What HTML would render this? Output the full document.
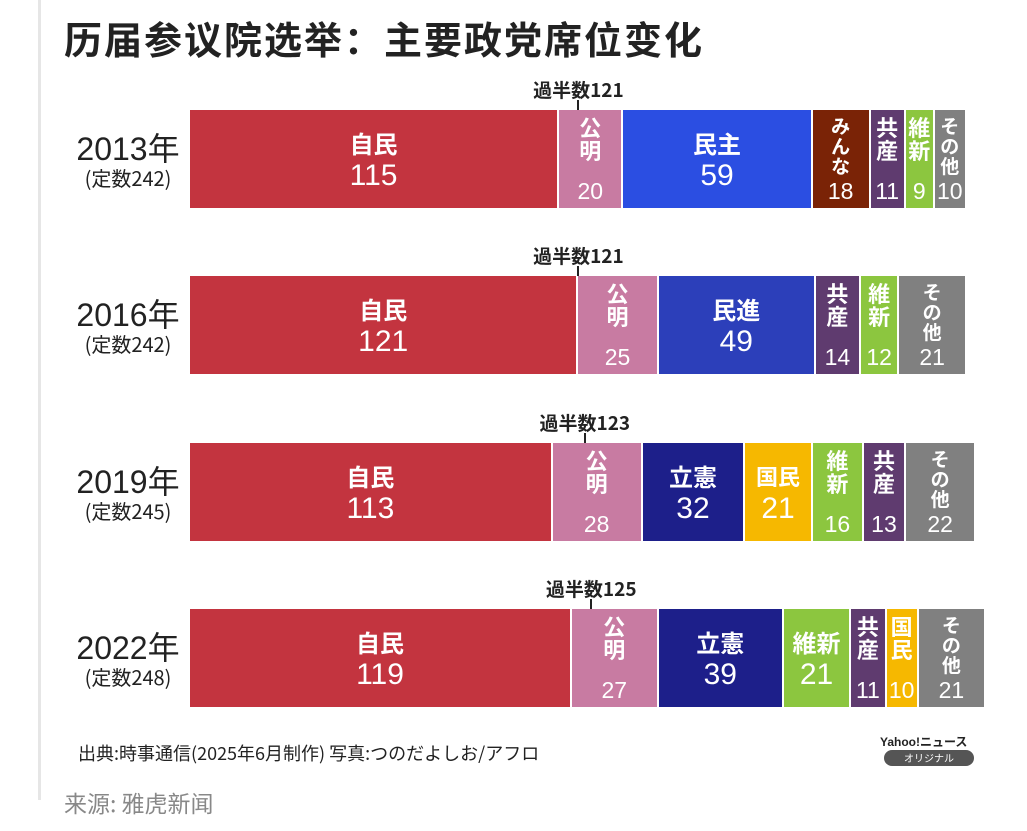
<!DOCTYPE html>
<html><head><meta charset="utf-8">
<style>
body{margin:0;background:#fff;width:1027px;height:831px;overflow:hidden;position:relative;font-family:"Liberation Sans","Noto Sans CJK JP",sans-serif;}
#rule{position:absolute;left:38px;top:0;width:3px;height:800px;background:#e6e6e6;}
#title{position:absolute;left:64px;top:10px;font-size:38px;font-weight:bold;color:#222;font-family:"Noto Sans CJK SC",sans-serif;letter-spacing:2px;}
.seg{position:absolute;color:#fff;text-align:center;overflow:hidden;font-family:"Noto Sans CJK JP",sans-serif;font-weight:bold;}
.num{font-weight:normal;font-family:"Liberation Sans",sans-serif;}
.year{position:absolute;left:68px;width:120px;text-align:center;color:#222;}
.yy{font-size:32px;line-height:34px;font-family:"Liberation Sans","Noto Sans CJK JP",sans-serif;}
.cap{font-size:20px;line-height:24px;font-family:"Noto Sans CJK JP",sans-serif;}
.maj{position:absolute;font-size:19px;color:#222;font-family:"Noto Sans CJK JP",sans-serif;font-weight:bold;transform:translateX(-50%);}
.tick{position:absolute;width:2px;height:10px;background:#222;}
#src{position:absolute;left:78px;top:740px;font-size:18px;color:#222;font-family:"Noto Sans CJK JP",sans-serif;}
#src2{position:absolute;left:64px;top:785px;font-size:23px;color:#888;font-family:"Noto Sans CJK SC",sans-serif;}
#yahoo{position:absolute;left:880px;top:733px;font-size:12px;font-weight:bold;color:#222;}
#orig{position:absolute;left:884px;top:750px;width:90px;height:16px;border-radius:8px;background:#555;color:#fff;font-size:10px;text-align:center;line-height:16px;font-family:"Noto Sans CJK JP",sans-serif;}
</style></head><body>
<div id="rule"></div>
<div id="title">历届参议院选举：主要政党席位变化</div>
<div id="chart"></div>
<div id="src">出典:時事通信(2025年6月制作) 写真:つのだよしお/アフロ</div>
<div id="yahoo">Yahoo!ニュース</div>
<div id="orig">オリジナル</div>
<div id="src2">来源:  雅虎新闻</div>
<script>
const years=["2013年","2016年","2019年","2022年"];
const totals=[242,242,245,248];
const majority=[121,121,123,125];
const parties2013=["自民","公明","民主","みんな","共産","維新","その他"];
const seats2013=[115,20,59,18,11,9,10];
const vert2013=[0,1,0,1,1,1,1];
const parties2016=["自民","公明","民進","共産","維新","その他"];
const seats2016=[121,25,49,14,12,21];
const vert2016=[0,1,0,1,1,1];
const parties2019=["自民","公明","立憲","国民","維新","共産","その他"];
const seats2019=[113,28,32,21,16,13,22];
const vert2019=[0,1,0,2,1,1,1];
const parties2022=["自民","公明","立憲","維新","共産","国民","その他"];
const seats2022=[119,27,39,21,11,10,21];
const vert2022=[0,1,0,0,1,1,1];
const colors={"自民":"#c3343f","公明":"#c87ba2","民主":"#2b4ee2","みんな":"#7a2306","共産":"#5f3b6f","維新":"#8cc63f","その他":"#808080","民進":"#2c3fba","立憲":"#1d1f8a","国民":"#f6b800"};
const rows=[[parties2013,seats2013,vert2013],[parties2016,seats2016,vert2016],[parties2019,seats2019,vert2019],[parties2022,seats2022,vert2022]];
const X0=190,SC=3.21,tops=[110,276,443,609],BH=98;
const xs=v=>X0+v*SC;
const chart=document.getElementById('chart');
rows.forEach((r,i)=>{
  const top=tops[i];
  const y=document.createElement('div');
  
  
  y.className='year';y.style.top=(top+22)+'px';
  y.innerHTML='<div class="yy">'+years[i]+'</div><div class="cap">(定数'+totals[i]+')</div>';
  chart.appendChild(y);
  let cum=0;
  r[0].forEach((p,j)=>{
    const v=r[1][j];
    const x1=xs(cum),x2=xs(cum+v);cum+=v;
    const d=document.createElement('div');
    
    
    d.className='seg';
    d.style.left=x1+'px';d.style.top=top+'px';d.style.width=(x2-x1-2)+'px';d.style.height=BH+'px';
    d.style.background=colors[p];
    const mode=r[2][j];
    if(mode===0||mode===2){
      d.innerHTML='<div style="padding-top:18px;font-size:'+(mode===0?24:22)+'px;line-height:30px">'+p+'</div><div class="num" style="font-size:30px;line-height:36px">'+v+'</div>';
    }else{
      const fs=p.length>=3?19:22;
      d.innerHTML='<div style="position:absolute;top:6px;left:0;right:0;font-size:'+fs+'px;line-height:'+(fs+1)+'px">'+p.split('').join('<br>')+'</div><div class="num" style="position:absolute;bottom:4px;left:-4px;right:-4px;font-size:23px;line-height:26px">'+v+'</div>';
    }
    chart.appendChild(d);
  });
  const mx=xs(majority[i]);
  const t=document.createElement('div');
  
  
  t.className='tick';t.style.left=(mx-1)+'px';t.style.top=(top-10)+'px';
  chart.appendChild(t);
  const m=document.createElement('div');
  
  
  m.className='maj';m.style.left=mx+'px';m.style.top=(top-34)+'px';
  m.textContent='過半数'+majority[i];
  chart.appendChild(m);
});
</script>
</body></html>
